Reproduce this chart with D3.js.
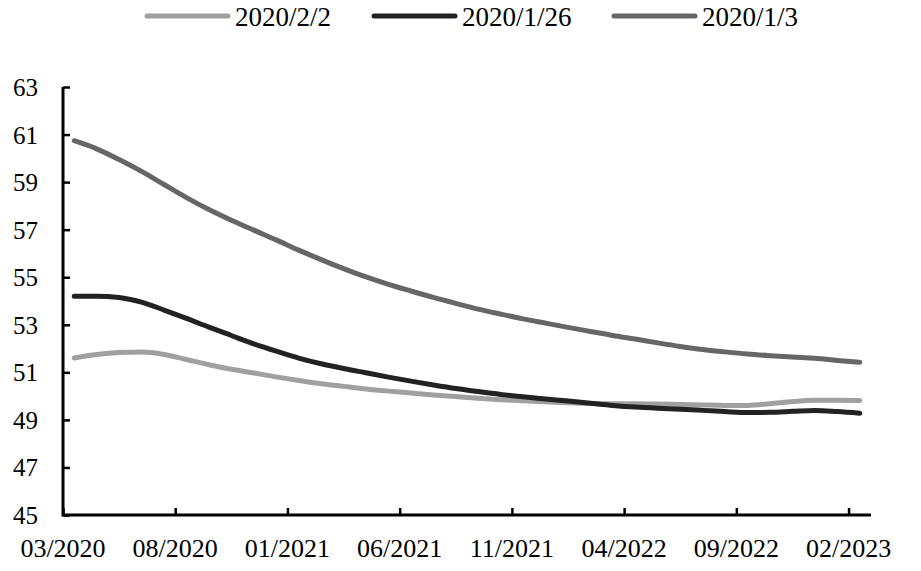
<!DOCTYPE html>
<html>
<head>
<meta charset="utf-8">
<script src="https://cdn.jsdelivr.net/npm/d3@7"></script>
<style>
  html, body { margin: 0; padding: 0; background: #fff; }
  svg { display: block; }
  text { font-family: "Liberation Serif", "Times New Roman", serif; fill: #000; }
</style>
</head>
<body>
<svg id="chart" width="921" height="571"></svg>
<script>
// ---- Data ----
const seriesNames = ["2020/2/2", "2020/1/26", "2020/1/3"];
// monthly observations, mid-month, from 03/2020 to 02/2023
const months = d3.timeMonth.range(new Date(2020, 2, 1), new Date(2023, 2, 1)).map(d3.timeFormat("%m/%Y"));
const s_2020_2_2 = [51.6, 51.75, 51.83, 51.85, 51.75, 51.54, 51.32, 51.13, 50.97, 50.81,
  50.66, 50.52, 50.41, 50.3, 50.21, 50.13, 50.05, 49.98, 49.91, 49.85,
  49.8, 49.76, 49.72, 49.69, 49.68, 49.68, 49.67, 49.65, 49.63, 49.61,
  49.61, 49.68, 49.77, 49.83, 49.83, 49.82];
const s_2020_1_26 = [54.2, 54.2, 54.15, 53.95, 53.62, 53.27, 52.9, 52.55, 52.2, 51.89,
  51.6, 51.36, 51.16, 50.98, 50.8, 50.63, 50.47, 50.32, 50.19, 50.07,
  49.97, 49.88, 49.79, 49.7, 49.61, 49.54, 49.49, 49.45, 49.4, 49.35,
  49.31, 49.32, 49.36, 49.4, 49.35, 49.28];
const s_2020_1_3 = [60.74, 60.4, 59.95, 59.45, 58.9, 58.35, 57.85, 57.4, 56.98, 56.57,
  56.14, 55.74, 55.36, 55.01, 54.7, 54.42, 54.15, 53.9, 53.66, 53.45,
  53.25, 53.07, 52.89, 52.72, 52.55, 52.4, 52.24, 52.09, 51.96, 51.86,
  51.77, 51.7, 51.64, 51.59, 51.5, 51.42];
const xTickIndex = [0, 5, 10, 15, 20, 25, 30, 35];
const xTickLabels = ["03/2020", "08/2020", "01/2021", "06/2021", "11/2021", "04/2022", "09/2022", "02/2023"];
const yTicks = [45, 47, 49, 51, 53, 55, 57, 59, 61, 63];

// ---- Layout ----
const svg = d3.select("#chart");
const mLeft = 63, mRight = 871, mTop = 87, mBottom = 515;
const colors = ["#a0a0a0", "#222222", "#666666"];
const allSeries = [s_2020_2_2, s_2020_1_26, s_2020_1_3];

const x = d3.scaleLinear().domain([0, months.length]).range([mLeft, mRight]);
const y = d3.scaleLinear().domain([45, 63]).range([mBottom, mTop]);

// ---- Axes ----
const yAxis = svg.append("g")
  .attr("transform", `translate(${mLeft},0)`)
  .call(d3.axisRight(y).tickValues(yTicks).tickSize(7).tickFormat(""));
yAxis.select(".domain").remove();
yAxis.selectAll(".tick line").attr("stroke", "#000").attr("stroke-width", 2.5);
svg.selectAll(".ylab").data(yTicks).enter().append("text")
  .attr("class", "ylab")
  .attr("x", 38).attr("y", d => y(d) + 9)
  .attr("text-anchor", "end")
  .style("font-size", "25px")
  .text(d => d);

const xAxis = svg.append("g")
  .attr("transform", `translate(0,${mBottom})`)
  .call(d3.axisTop(x).tickValues(xTickIndex).tickSize(7).tickFormat(""));
xAxis.select(".domain").remove();
xAxis.selectAll(".tick line").attr("stroke", "#000").attr("stroke-width", 2.5);
svg.selectAll(".xlab").data(xTickIndex).enter().append("text")
  .attr("class", "xlab")
  .attr("x", d => x(d)).attr("y", 557)
  .attr("text-anchor", "middle")
  .style("font-size", "26px")
  .text((d, i) => xTickLabels[i]);

// axis lines
svg.append("path")
  .attr("d", `M${mLeft},${mTop}V${mBottom}H${mRight}`)
  .attr("fill", "none").attr("stroke", "#000").attr("stroke-width", 3);

// ---- Lines ----
const line = d3.line()
  .x((d, i) => x(i + 0.5))
  .y(d => y(d))
  .curve(d3.curveMonotoneX);

allSeries.forEach((s, k) => {
  svg.append("path")
    .datum(s)
    .attr("d", line)
    .attr("fill", "none")
    .attr("stroke", colors[k])
    .attr("stroke-width", 5)
    .attr("stroke-linecap", "round")
    .attr("stroke-linejoin", "round");
});

// ---- Legend ----
const legendX = [147, 374, 614];
seriesNames.forEach((name, k) => {
  const g = svg.append("g");
  g.append("line")
    .attr("x1", legendX[k]).attr("x2", legendX[k] + 81)
    .attr("y1", 16).attr("y2", 16)
    .attr("stroke", colors[k]).attr("stroke-width", 5)
    .attr("stroke-linecap", "round");
  g.append("text")
    .attr("x", legendX[k] + 88).attr("y", 26)
    .style("font-size", "27px")
    .text(name);
});
</script>
</body>
</html>
